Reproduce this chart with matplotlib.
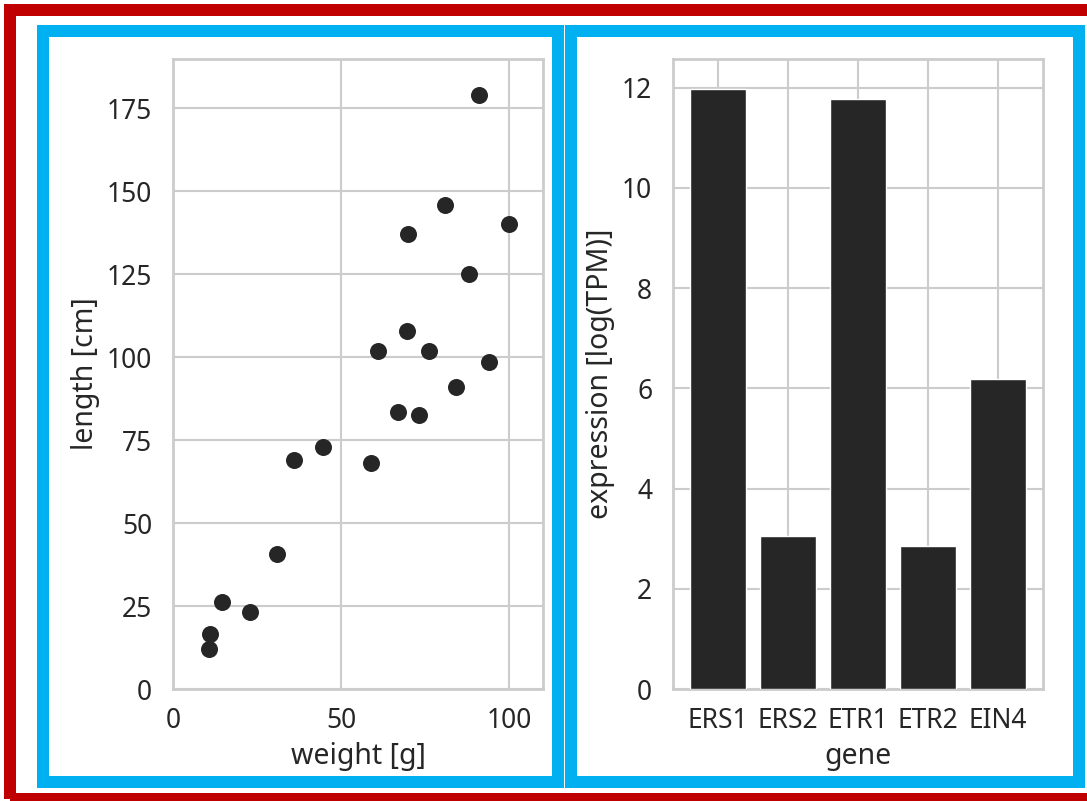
import numpy as np
import matplotlib
matplotlib.use('Agg')
import matplotlib.pyplot as plt
import seaborn as sns
from matplotlib.patches import Rectangle

# scatter data: weight [g] vs length [cm]
weight = [91, 81, 100, 70, 88, 69.5, 61, 76, 94, 84, 67, 73, 44.7, 36, 59, 31, 14.6, 23, 11, 10.7]
length = [179, 146, 140, 137, 125, 108, 102, 102, 98.5, 91, 83.5, 82.5, 73, 69, 68, 40.6, 26.3, 23.3, 16.6, 12]

# bar data: gene expression
genes = ['ERS1', 'ERS2', 'ETR1', 'ETR2', 'EIN4']
expression = [11.98, 3.05, 11.78, 2.85, 6.18]

sns.set_theme(style='whitegrid')
plt.rcParams['font.family'] = ['Noto Sans', 'DejaVu Sans']
plt.rcParams.update({
    'axes.edgecolor': '.8',
    'axes.linewidth': 2.0,
    'grid.color': '.8',
    'grid.linewidth': 1.5,
    'xtick.major.size': 0,
    'ytick.major.size': 0,
    'xtick.major.pad': 13,
    'ytick.major.pad': 15,
    'xtick.labelsize': 19,
    'ytick.labelsize': 19,
    'axes.labelsize': 20.5,
    'axes.labelpad': 5,
    'text.color': '.15',
    'axes.labelcolor': '.15',
    'xtick.color': '.15',
    'ytick.color': '.15',
})

W, H = 1087, 801
fig = plt.figure(figsize=(W / 100, H / 100), dpi=100)


def px_rect(x0, y0, x1, y1, color, lw_px):
    # rectangle outline given in pixel coords (origin top-left)
    r = Rectangle((x0 / W, 1 - y1 / H), (x1 - x0) / W, (y1 - y0) / H,
                  transform=fig.transFigure, fill=False, edgecolor=color,
                  linewidth=lw_px * 0.72, joinstyle='miter', clip_on=False)
    fig.add_artist(r)


# frames: red around the figure, blue around each panel
px_rect(10, 10, 1091, 799, '#C00000', 12)
px_rect(43, 30.5, 557.5, 781.5, '#00B0F0', 12)
px_rect(571, 30.5, 1079, 781.5, '#00B0F0', 12)

ax1 = fig.add_axes([173 / W, 1 - 689 / H, 370 / W, 630.5 / H])
ax1.scatter(weight, length, s=150, color='#262626', linewidths=0, zorder=3)
ax1.set_xlim(0, 110)
ax1.set_ylim(0, 190)
ax1.set_xticks([0, 50, 100])
ax1.set_yticks([0, 25, 50, 75, 100, 125, 150, 175])
ax1.set_xlabel('weight [g]')
ax1.set_ylabel('length [cm]')

ax2 = fig.add_axes([673 / W, 1 - 689 / H, 370 / W, 630.5 / H])
ax2.bar(genes, expression, width=0.8, color='#262626', edgecolor='white',
        linewidth=1, zorder=3)
ax2.set_xlabel('gene')
ax2.set_ylabel('expression [log(TPM)]')
ax2.grid(True, axis='both')

fig.savefig('out.png', dpi=100)
